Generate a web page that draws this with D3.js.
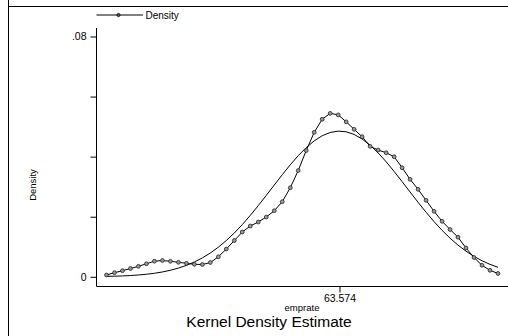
<!DOCTYPE html>
<html>
<head>
<meta charset="utf-8">
<script src="https://cdn.jsdelivr.net/npm/d3@7/dist/d3.min.js"></script>
<style>
  html, body { margin: 0; padding: 0; background: #fff; }
  svg { display: block; }
  text { font-family: "Liberation Sans", Arial, Helvetica, sans-serif; fill: #000; }
</style>
</head>
<body>
<script>
// Evaluation grid for the kernel density (emprate)
const gridX = [
  35.33, 36.30, 37.27, 38.24, 39.20, 40.17, 41.14, 42.11, 43.08, 44.05,
  45.02, 45.98, 46.95, 47.92, 48.89, 49.86, 50.83, 51.79, 52.76, 53.73,
  54.70, 55.67, 56.64, 57.61, 58.57, 59.54, 60.51, 61.48, 62.45, 63.42,
  64.39, 65.35, 66.32, 67.29, 68.26, 69.23, 70.20, 71.17, 72.13, 73.10,
  74.07, 75.04, 76.01, 76.98, 77.94, 78.91, 79.88, 80.85, 81.82, 82.79
];

// Kernel density estimate at each grid point
const kernelDensity = [
  0.0006, 0.00136, 0.00203, 0.00276, 0.00349, 0.00433, 0.00519, 0.00542, 0.00516, 0.00483,
  0.00449, 0.00416, 0.00409, 0.00476, 0.00666, 0.00925, 0.01208, 0.01491, 0.01691, 0.01824,
  0.0199, 0.022, 0.025, 0.02965, 0.03538, 0.04203, 0.04809, 0.05245, 0.05441, 0.05391,
  0.05158, 0.04909, 0.04663, 0.04343, 0.0422, 0.0413, 0.03997, 0.03631, 0.03245, 0.02912,
  0.02546, 0.0218, 0.01847, 0.01574, 0.01318, 0.00958, 0.00642, 0.00383, 0.00216, 0.0011
];

// Normal density overlay at the same grid points
const normalDensity = [
  0.000134, 0.000199, 0.000292, 0.000422, 0.000601, 0.000847, 0.001176, 0.001611, 0.002176, 0.002899,
  0.003809, 0.004923, 0.006292, 0.00793, 0.009857, 0.01208, 0.0146, 0.01738, 0.02044, 0.0237,
  0.0271, 0.03057, 0.034, 0.0373, 0.04031, 0.04301, 0.04525, 0.04696, 0.04805, 0.0485,
  0.04827, 0.04739, 0.04587, 0.0438, 0.04124, 0.03829, 0.03506, 0.03166, 0.02823, 0.0248,
  0.02149, 0.01835, 0.01546, 0.01285, 0.01055, 0.008527, 0.006795, 0.005345, 0.004141, 0.003167
];

const yTicks = [0, 0.02, 0.04, 0.06, 0.08];
const yTickLabels = ["0", "", "", "", ".08"];
const xTicks = [63.574];
const xTickLabels = ["63.574"];

const W = 508, H = 336;
const svg = d3.select("body").append("svg").attr("width", W).attr("height", H);

const x = d3.scaleLinear().domain([34.12, 84.0]).range([96.5, 508]);
const y = d3.scaleLinear().domain([0, 0.08]).range([276.8, 36.5]);

// outer frame edges
svg.append("line").attr("x1", 8.5).attr("x2", 8.5).attr("y1", 0).attr("y2", H)
  .attr("stroke", "#000").attr("stroke-width", 1);
svg.append("line").attr("x1", 8).attr("x2", W).attr("y1", 6.5).attr("y2", 6.5)
  .attr("stroke", "#000").attr("stroke-width", 1);

// y axis
const yAxis = d3.axisLeft(y).tickValues(yTicks)
  .tickFormat((d, i) => yTickLabels[i]).tickSize(6).tickPadding(4);
const gy = svg.append("g").attr("transform", "translate(96.5,0)").call(yAxis);
gy.select(".domain").remove();
gy.append("line").attr("x1", 0).attr("x2", 0).attr("y1", 28).attr("y2", 286.5)
  .attr("stroke", "#000");
gy.selectAll("text").attr("font-size", 10.5).attr("font-family", "Liberation Sans, Arial, sans-serif");

// x axis
const xAxis = d3.axisBottom(x).tickValues(xTicks)
  .tickFormat((d, i) => xTickLabels[i]).tickSize(6).tickPadding(2);
const gx = svg.append("g").attr("transform", "translate(0,286.5)").call(xAxis);
gx.select(".domain").remove();
gx.append("line").attr("x1", 96.5).attr("x2", W).attr("y1", 0).attr("y2", 0)
  .attr("stroke", "#000");
gx.selectAll("text").attr("font-size", 10.5).attr("font-family", "Liberation Sans, Arial, sans-serif");

// axis titles
svg.append("text").attr("x", 302).attr("y", 311).attr("text-anchor", "middle")
  .attr("font-size", 9.5).text("emprate");
svg.append("text").attr("transform", "translate(36,185) rotate(-90)")
  .attr("text-anchor", "middle").attr("font-size", 9.5).text("Density");
svg.append("text").attr("x", 269).attr("y", 327).attr("text-anchor", "middle")
  .attr("font-size", 15.5).text("Kernel Density Estimate");

// normal density line
const line = d3.line().x(d => x(d[0])).y(d => y(d[1]));
svg.append("path")
  .datum(gridX.map((v, i) => [v, normalDensity[i]]))
  .attr("d", line).attr("fill", "none").attr("stroke", "#000").attr("stroke-width", 1);

// kernel density line with markers
const kd = gridX.map((v, i) => [v, kernelDensity[i]]);
svg.append("path").datum(kd)
  .attr("d", line).attr("fill", "none").attr("stroke", "#000").attr("stroke-width", 1);
svg.selectAll("circle.kd").data(kd).enter().append("circle").attr("class", "kd")
  .attr("cx", d => x(d[0])).attr("cy", d => y(d[1])).attr("r", 1.9)
  .attr("fill", "#999").attr("stroke", "#222").attr("stroke-width", 0.8);

// legend
const lg = svg.append("g");
lg.append("line").attr("x1", 96.5).attr("x2", 143).attr("y1", 15).attr("y2", 15)
  .attr("stroke", "#000");
lg.append("circle").attr("cx", 118.5).attr("cy", 15).attr("r", 1.6)
  .attr("fill", "#555").attr("stroke", "#000").attr("stroke-width", 0.8);
lg.append("text").attr("x", 145.5).attr("y", 18.5).attr("font-size", 10).text("Density");
</script>
</body>
</html>
